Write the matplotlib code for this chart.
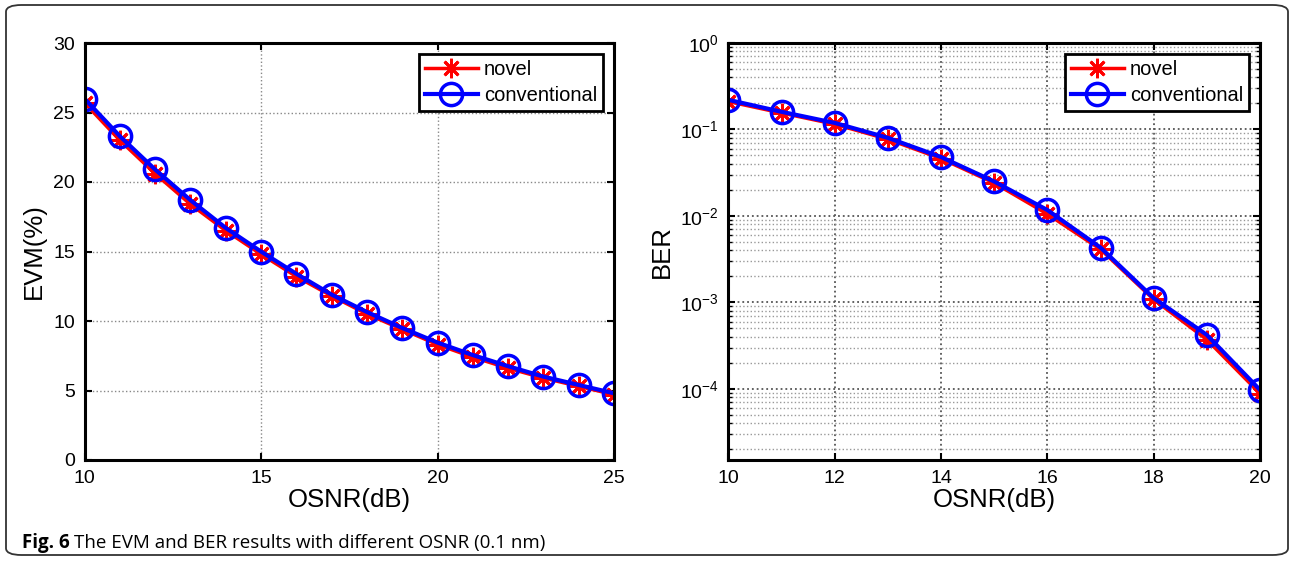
import numpy as np
import matplotlib
matplotlib.use('Agg')
import matplotlib.pyplot as plt
from matplotlib.patches import FancyBboxPatch

plt.rcParams['font.family'] = ['Liberation Sans', 'DejaVu Sans']
plt.rcParams['mathtext.fontset'] = 'custom'
plt.rcParams['mathtext.rm'] = 'Liberation Sans'

# EVM vs OSNR
osnr_evm = [10, 11, 12, 13, 14, 15, 16, 17, 18, 19, 20, 21, 22, 23, 24, 25]
evm_novel = [25.7, 23.0, 20.6, 18.4, 16.5, 14.8, 13.2, 11.8, 10.5, 9.4, 8.3, 7.4, 6.6, 5.9, 5.3, 4.7]
evm_conv = [26.0, 23.3, 20.9, 18.7, 16.7, 15.0, 13.4, 11.9, 10.65, 9.5, 8.45, 7.55, 6.75, 6.0, 5.4, 4.8]

# BER vs OSNR
osnr_ber = [10, 11, 12, 13, 14, 15, 16, 17, 18, 19, 20]
ber_novel = [0.21, 0.155, 0.115, 0.077, 0.046, 0.024, 0.0105, 0.0041, 0.00108, 0.00037, 0.000088]
ber_conv = [0.22, 0.16, 0.119, 0.080, 0.048, 0.025, 0.0117, 0.0043, 0.00112, 0.00042, 0.000097]

W, H = 1292, 564
fig = plt.figure(figsize=(W / 100, H / 100), dpi=100)

# rounded frame around the figure
frame = FancyBboxPatch((6 / W, 9 / H), 1282 / W, 550 / H,
                       boxstyle='round,pad=0,rounding_size=0.012',
                       transform=fig.transFigure, fill=False,
                       edgecolor='#333333', linewidth=1.3)
fig.patches.append(frame)

ax1 = fig.add_axes([84.5 / W, 1 - 460 / H, 529.5 / W, 417 / H])
ax2 = fig.add_axes([728.4 / W, 1 - 460 / H, 531.6 / W, 417 / H])

star = (8, 2, 0)


def style(ax):
    ax.tick_params(direction='in', top=True, right=True, width=1.5, length=5,
                   labelsize=14, pad=7)
    ax.tick_params(which='minor', direction='in', top=True, right=True, width=1, length=3)
    for s in ax.spines.values():
        s.set_linewidth(2.2)
    ax.set_xlabel('OSNR(dB)', fontsize=18.5, labelpad=1)
    leg = ax.legend(loc='upper right', fontsize=14.5, fancybox=False, framealpha=1,
                    edgecolor='black', borderpad=0.3, handlelength=2.6,
                    handletextpad=0.3, borderaxespad=0.55, labelspacing=0.35)
    leg.get_frame().set_linewidth(2)


ax1.plot(osnr_evm, evm_novel, '-', color='red', lw=2.5, marker=star, ms=14, mew=2,
         label='novel')
ax1.plot(osnr_evm, evm_conv, '-', color='blue', lw=3, marker='o', ms=16, mew=2.5,
         mfc='none', label='conventional')
ax1.set_xlim(10, 25)
ax1.set_ylim(0, 30)
ax1.set_xticks([10, 15, 20, 25])
ax1.set_yticks([0, 5, 10, 15, 20, 25, 30])
ax1.grid(True, linestyle=':', color='#888888', linewidth=1)
ax1.set_ylabel('EVM(%)', fontsize=18.5, labelpad=5)
style(ax1)

ax2.semilogy(osnr_ber, ber_novel, '-', color='red', lw=2.5, marker=star, ms=14, mew=2,
             label='novel')
ax2.semilogy(osnr_ber, ber_conv, '-', color='blue', lw=3, marker='o', ms=16, mew=2.5,
             mfc='none', label='conventional')
ax2.set_xlim(10, 20)
ax2.set_ylim(1.5e-5, 1)
ax2.set_xticks([10, 12, 14, 16, 18, 20])
ax2.set_yticks([1e-4, 1e-3, 1e-2, 1e-1, 1])
ax2.grid(True, which='major', linestyle=':', color='#555555', linewidth=1.3)
ax2.grid(True, which='minor', linestyle=':', color='#999999', linewidth=1)
ax2.set_ylabel('BER', fontsize=18.5, labelpad=4)
style(ax2)

fig.text(22 / W, 1 - 543 / H, 'Fig. 6', fontsize=13.5, fontweight='bold',
         family=['Open Sans', 'DejaVu Sans'], va='center')
fig.text(74 / W, 1 - 543 / H, 'The EVM and BER results with different OSNR (0.1 nm)',
         fontsize=13.5, family=['Open Sans', 'DejaVu Sans'], va='center')

fig.savefig('out.png', dpi=100)
